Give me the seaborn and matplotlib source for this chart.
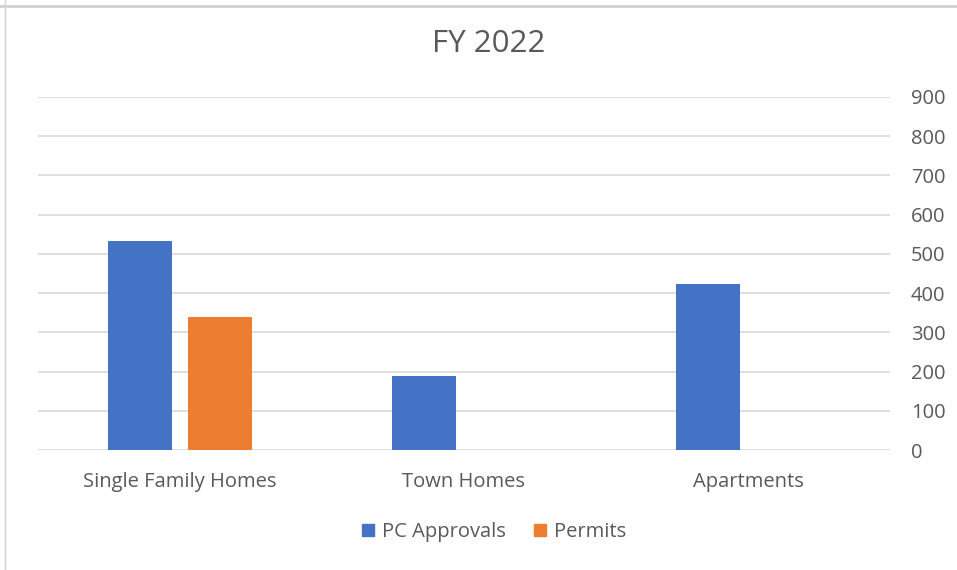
import pandas as pd
import matplotlib.pyplot as plt
import seaborn as sns
from matplotlib.lines import Line2D

categories = ["Single Family Homes", "Town Homes", "Apartments"]
pc_approvals = [533, 189, 423]
permits = [339, 0, 0]
series = ["PC Approvals", "Permits"]
yticks = [0, 100, 200, 300, 400, 500, 600, 700, 800, 900]

BLUE = "#4472C4"
ORANGE = "#ED7D31"
TEXT = "#595959"
GRID = "#D9D9D9"


def main():
    df = pd.DataFrame({
        "Category": categories * 2,
        "Series": [series[0]] * 3 + [series[1]] * 3,
        "Value": pc_approvals + permits,
    })

    sns.set_style("white")
    plt.rcParams["font.family"] = ["Open Sans", "DejaVu Sans"]

    fig = plt.figure(figsize=(9.57, 5.70), dpi=100)
    ax = fig.add_axes([38 / 957, 120 / 570, 852 / 957, 353 / 570])

    sns.barplot(data=df, x="Category", y="Value", hue="Series",
                palette=[BLUE, ORANGE], saturation=1, width=0.565, gap=0.2,
                linewidth=0, errorbar=None, legend=False, ax=ax)

    ax.set_xlim(-0.5, 2.5)
    ax.set_ylim(0, 900)
    ax.set_yticks(yticks)
    ax.yaxis.tick_right()
    ax.yaxis.grid(True, color=GRID, linewidth=1.2)
    ax.set_axisbelow(True)
    for s in ax.spines.values():
        s.set_visible(False)
    ax.tick_params(axis="y", length=0, pad=15, labelsize=14.5, labelcolor=TEXT)
    for lbl in ax.get_yticklabels():
        lbl.set_horizontalalignment("left")
    ax.tick_params(axis="x", length=0, pad=16, labelsize=14.5, labelcolor=TEXT)
    ax.set_xlabel("")
    ax.set_ylabel("")

    fig.text(489 / 957, 1 - 44 / 570, "FY 2022", ha="center", va="center",
             fontsize=22.5, color=TEXT)

    handles = [Line2D([], [], marker="s", linestyle="", markersize=9, color=c)
               for c in (BLUE, ORANGE)]
    fig.legend(handles, series, loc="center", bbox_to_anchor=(493 / 957, 1 - 532 / 570),
               ncol=2, frameon=False, fontsize=14.5, labelcolor=TEXT,
               handlelength=0.8, handletextpad=0.3, columnspacing=1.3)

    # outer chart frame remnants
    fig.add_artist(Line2D([0, 1], [1 - 6 / 570] * 2, color="#D0D0D0", linewidth=2,
                          transform=fig.transFigure))
    fig.add_artist(Line2D([5 / 957] * 2, [0, 1], color="#D0D0D0", linewidth=1,
                          transform=fig.transFigure))

    fig.savefig("out.png", dpi=100)


if __name__ == "__main__":
    main()
